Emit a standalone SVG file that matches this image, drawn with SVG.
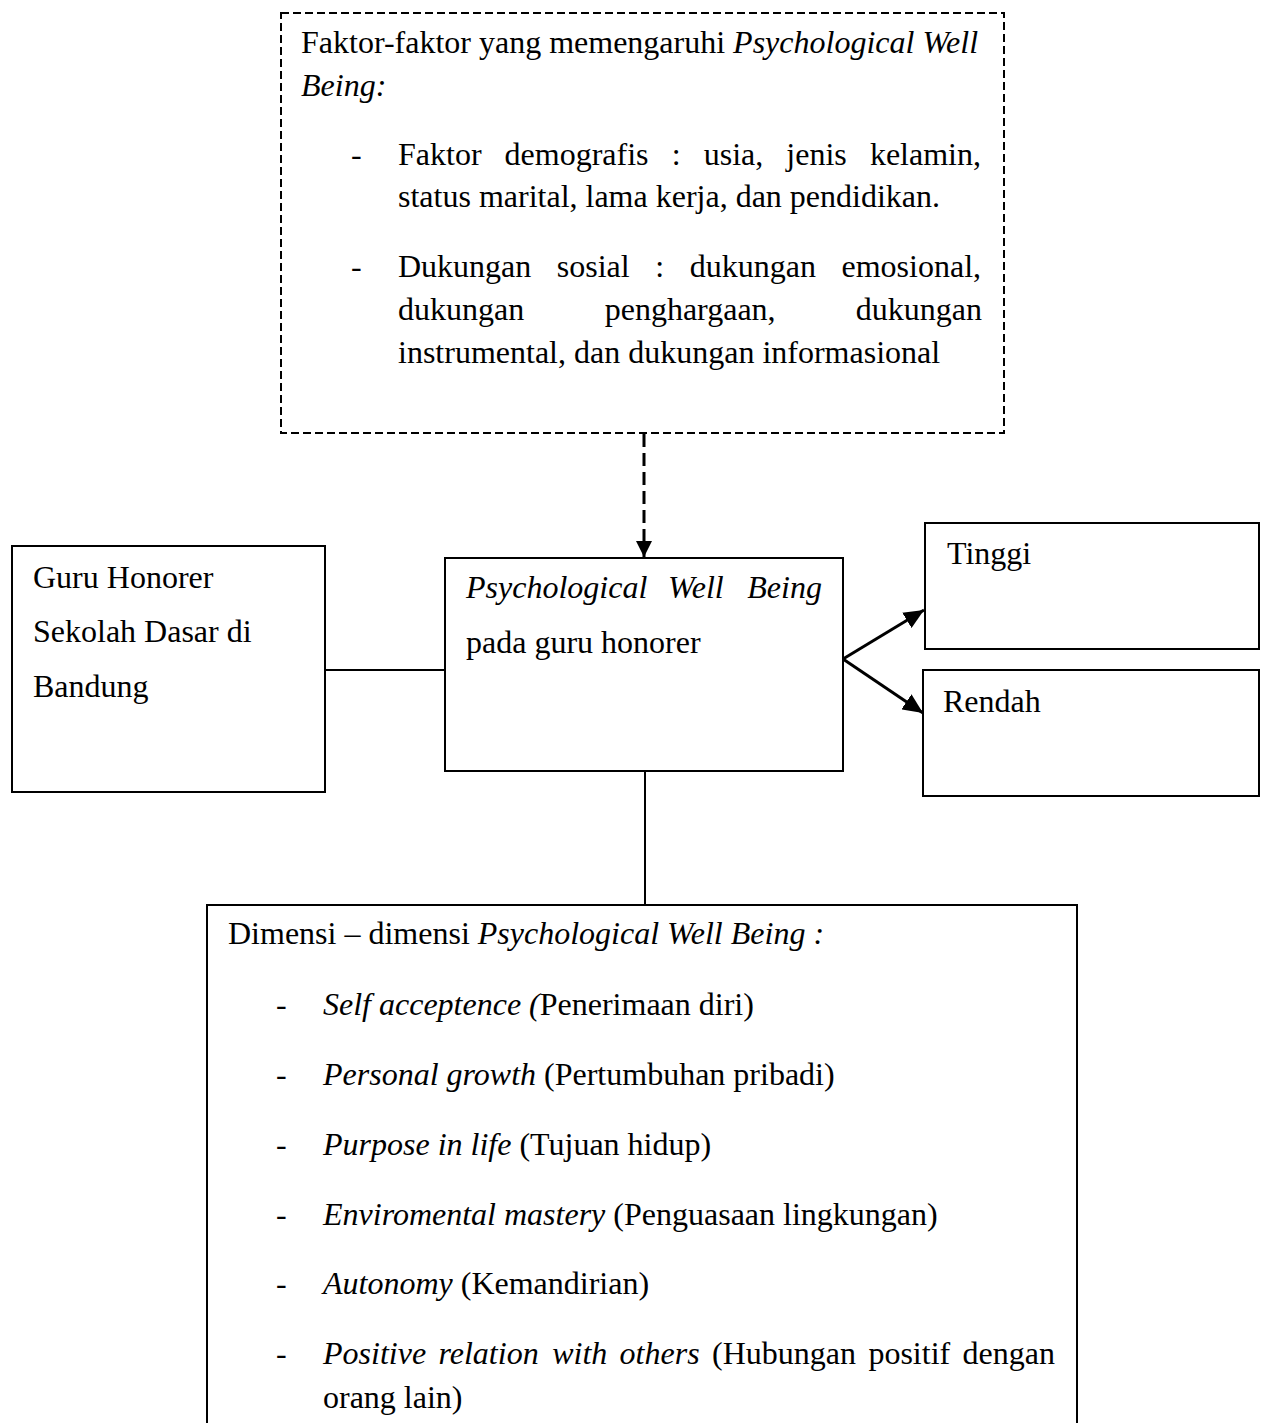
<svg xmlns="http://www.w3.org/2000/svg" width="1265" height="1423" viewBox="0 0 1265 1423">
<style>
text { font-family: "Liberation Serif", "Times New Roman", serif; font-size: 32px; fill: #000; }
.i { font-style: italic; }
.box { fill: #fff; stroke: #000; stroke-width: 2; }
.dbox { fill: #fff; stroke: #000; stroke-width: 2; stroke-dasharray: 8 4; }
.line { fill: none; stroke: #000; stroke-width: 2; }
.arr { fill: none; stroke: #000; stroke-width: 3; }
</style>
<defs>
<marker id="ah" markerUnits="userSpaceOnUse" markerWidth="22" markerHeight="18" refX="20" refY="9" orient="auto">
<path d="M0,0 L20,9 L0,18 z" fill="#000"/>
</marker>
<marker id="ahd" markerUnits="userSpaceOnUse" markerWidth="18" markerHeight="18" refX="16" refY="8" orient="auto">
<path d="M0,0 L16,8 L0,16 z" fill="#000"/>
</marker>
</defs>
<rect width="1265" height="1423" fill="#fff"/>

<g id="connectors">
<line x1="644" y1="434" x2="644" y2="557" stroke="#000" stroke-width="3" stroke-dasharray="13 6" marker-end="url(#ahd)"/>
<line class="line" x1="325" y1="670" x2="445" y2="670"/>
<line class="arr" x1="843" y1="659" x2="924" y2="610" marker-end="url(#ah)"/>
<line class="arr" x1="843" y1="659" x2="923" y2="713" marker-end="url(#ah)"/>
<line class="line" x1="645" y1="771" x2="645" y2="905"/>
</g>

<g id="faktor">
<rect class="dbox" x="281" y="13" width="723" height="420"/>
<text x="301" y="53">Faktor-faktor yang memengaruhi <tspan class="i">Psychological Well</tspan></text>
<text x="301" y="96" class="i">Being:</text>
<text x="351" y="165">-</text>
<text y="165"><tspan x="398">Faktor</tspan><tspan x="504.6">demografis</tspan><tspan x="671.7">:</tspan><tspan x="703.7">usia,</tspan><tspan x="786.3">jenis</tspan><tspan x="869.9">kelamin,</tspan></text>
<text x="398" y="207">status marital, lama kerja, dan pendidikan.</text>
<text x="351" y="277">-</text>
<text y="277"><tspan x="398">Dukungan</tspan><tspan x="556.8">sosial</tspan><tspan x="655.3">:</tspan><tspan x="689.7">dukungan</tspan><tspan x="841.5">emosional,</tspan></text>
<text y="320"><tspan x="398">dukungan</tspan><tspan x="604.7">penghargaan,</tspan><tspan x="855.8">dukungan</tspan></text>
<text x="398" y="363">instrumental, dan dukungan informasional</text>
</g>

<g id="guru">
<rect class="box" x="12" y="546" width="313" height="246"/>
<text x="33" y="588">Guru Honorer</text>
<text x="33" y="642">Sekolah Dasar di</text>
<text x="33" y="697">Bandung</text>
</g>

<g id="pwb">
<rect class="box" x="445" y="558" width="398" height="213"/>
<text y="598" class="i"><tspan x="466">Psychological</tspan><tspan x="668">Well</tspan><tspan x="747.3">Being</tspan></text>
<text x="466" y="653">pada guru honorer</text>
</g>

<g id="tinggi">
<rect class="box" x="925" y="523" width="334" height="126"/>
<text x="947" y="564">Tinggi</text>
</g>

<g id="rendah">
<rect class="box" x="923" y="670" width="336" height="126"/>
<text x="943" y="712">Rendah</text>
</g>

<g id="dimensi">
<path class="box" d="M207,1430 V905 H1077 V1430"/>
<text x="228" y="944">Dimensi – dimensi <tspan class="i">Psychological Well Being :</tspan></text>
<text x="276" y="1015">-</text>
<text x="323" y="1015"><tspan class="i">Self acceptence (</tspan>Penerimaan diri)</text>
<text x="276" y="1085">-</text>
<text x="323" y="1085"><tspan class="i">Personal growth</tspan> (Pertumbuhan pribadi)</text>
<text x="276" y="1155">-</text>
<text x="323" y="1155"><tspan class="i">Purpose in life</tspan> (Tujuan hidup)</text>
<text x="276" y="1225">-</text>
<text x="323" y="1225"><tspan class="i">Enviromental mastery</tspan> (Penguasaan lingkungan)</text>
<text x="276" y="1294">-</text>
<text x="323" y="1294"><tspan class="i">Autonomy</tspan> (Kemandirian)</text>
<text x="276" y="1364">-</text>
<text y="1364"><tspan class="i" x="323">Positive</tspan><tspan class="i" x="438.5">relation</tspan><tspan class="i" x="552.2">with</tspan><tspan class="i" x="619.6">others</tspan><tspan x="712">(Hubungan</tspan><tspan x="868.4">positif</tspan><tspan x="962.6">dengan</tspan></text>
<text x="323" y="1408">orang lain)</text>
</g>
</svg>
